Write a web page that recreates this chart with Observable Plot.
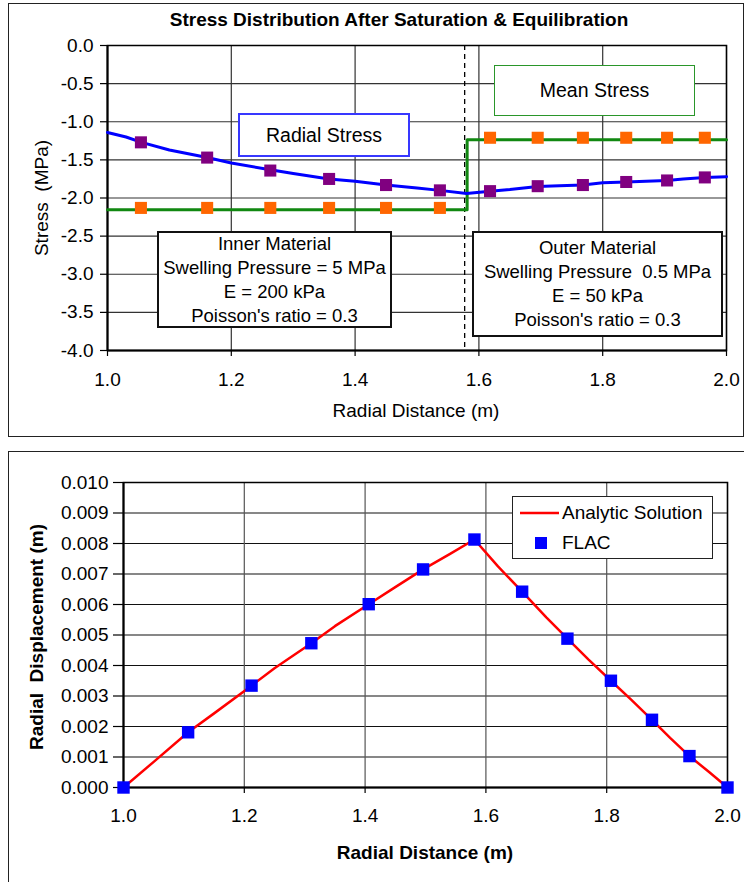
<!DOCTYPE html>
<html>
<head>
<meta charset="utf-8">
<script src="https://cdn.jsdelivr.net/npm/d3@7"></script>
<script src="https://cdn.jsdelivr.net/npm/@observablehq/plot@0.6"></script>
<style>
  html, body { margin: 0; padding: 0; background: #fff; }
  #wrap { position: relative; width: 744px; height: 882px; overflow: hidden; font-family: "Liberation Sans", Arial, sans-serif; color: #000; }
  .panel { position: absolute; border: 1.5px solid #222; background: #fff; box-sizing: border-box; }
  .box { position: absolute; background: #fff; box-sizing: border-box; display: flex; flex-direction: column; align-items: center; justify-content: center; font-size: 18.5px; white-space: pre; }
  .ttl { position: absolute; white-space: nowrap; transform: translate(-50%, -50%); font-size: 19px; }
  .rot { transform: translate(-50%, -50%) rotate(-90deg); }
  #wrap > svg { position: absolute; }
</style>
</head>
<body>
<div id="wrap">
  <div class="panel" style="left:8px; top:3px; width:736px; height:434px;"></div>
  <div class="panel" style="left:8px; top:451px; width:740px; height:440px;"></div>
</div>
<script>
// ---------- Top chart data ----------
const stressTitle = "Stress Distribution After Saturation & Equilibration";
const radialLineX = [1.00,1.03,1.055,1.10,1.161,1.20,1.263,1.30,1.358,1.40,1.450,1.50,1.537,1.58,1.618,1.65,1.695,1.73,1.768,1.80,1.838,1.87,1.904,1.93,1.965,2.00];
const radialLineY = [-1.14,-1.20,-1.27,-1.37,-1.47,-1.54,-1.63,-1.68,-1.75,-1.78,-1.83,-1.87,-1.90,-1.94,-1.91,-1.89,-1.85,-1.84,-1.83,-1.80,-1.79,-1.78,-1.77,-1.75,-1.73,-1.72];
const innerMarkX = [1.054,1.161,1.263,1.358,1.450,1.537];
const outerMarkX = [1.618,1.695,1.768,1.838,1.904,1.965];
const radialInnerFLAC = [-1.27,-1.47,-1.64,-1.75,-1.83,-1.90];
const radialOuterFLAC = [-1.91,-1.845,-1.83,-1.79,-1.77,-1.73];
const meanInnerFLAC = -2.13;
const meanOuterFLAC = -1.21;
const meanLineX = [1.0, 1.581, 1.581, 2.0];
const meanLineY = [-2.155, -2.155, -1.235, -1.235];
const interfaceX = 1.577;
const stressTicks = [0,-0.5,-1,-1.5,-2,-2.5,-3,-3.5,-4];
const distTicks = [1.0,1.2,1.4,1.6,1.8,2.0];

// ---------- Bottom chart data ----------
const analyticX = [1.00,1.05,1.107,1.15,1.212,1.25,1.311,1.35,1.406,1.45,1.496,1.54,1.581,1.62,1.660,1.70,1.735,1.77,1.807,1.84,1.875,1.905,1.937,1.97,2.00];
const analyticY = [0.0,0.00084,0.00181,0.00243,0.00334,0.00391,0.00473,0.00529,0.00601,0.00657,0.00715,0.00765,0.00813,0.00725,0.00642,0.00558,0.00488,0.00419,0.00350,0.00289,0.00222,0.00163,0.00103,0.00050,0.0];
const flacX = [1.0,1.107,1.212,1.311,1.406,1.496,1.581,1.660,1.735,1.807,1.875,1.937,2.0];
const flacY = [0.0,0.00181,0.00334,0.00473,0.00601,0.00715,0.00813,0.00642,0.00488,0.00350,0.00222,0.00103,0.0];
const dispTicks = [0,0.001,0.002,0.003,0.004,0.005,0.006,0.007,0.008,0.009,0.010];

const FONT = "Liberation Sans, Arial, sans-serif";
const wrap = document.getElementById("wrap");

// ---------- Top plot ----------
const radialLine = radialLineX.map((x,i)=>({x, y: radialLineY[i]}));
const meanLine = meanLineX.map((x,i)=>({x, y: meanLineY[i]}));
const purple = innerMarkX.concat(outerMarkX).map((x,i)=>({x, y: radialInnerFLAC.concat(radialOuterFLAC)[i]}));
const orange = innerMarkX.map(x=>({x, y: meanInnerFLAC})).concat(outerMarkX.map(x=>({x, y: meanOuterFLAC})));

const stressPlot = Plot.plot({
  width: 744, height: 440,
  marginLeft: 107, marginRight: 18, marginTop: 45, marginBottom: 90,
  style: {fontFamily: FONT, fontSize: "19px", color: "#000", background: "transparent", overflow: "visible"},
  x: {domain: [1, 2]},
  y: {domain: [-4, 0]},
  marks: [
    Plot.gridY(stressTicks, {stroke: "#333", strokeOpacity: 1, strokeWidth: 1.2}),
    Plot.gridX(distTicks, {stroke: "#333", strokeOpacity: 1, strokeWidth: 1.2}),
    Plot.frame({stroke: "#000", strokeWidth: 1.5}),
    Plot.ruleX([1], {stroke: "#000", strokeWidth: 2}),
    Plot.ruleY([-4], {stroke: "#000", strokeWidth: 2}),
    Plot.axisY(stressTicks, {tickSize: 7, tickPadding: 7, tickFormat: d => d.toFixed(1), label: null, fontSize: 19, strokeWidth: 1.2}),
    Plot.axisX(distTicks, {tickSize: 6, tickPadding: 16, tickFormat: d => d.toFixed(1), label: null, fontSize: 19, strokeWidth: 1.2}),
    Plot.ruleX([interfaceX], {stroke: "#000", strokeWidth: 1.3, strokeDasharray: "5,4"}),
    Plot.line(meanLine, {x: "x", y: "y", stroke: "#118811", strokeWidth: 3}),
    Plot.line(radialLine, {x: "x", y: "y", stroke: "#0000ff", strokeWidth: 3, curve: "linear"}),
    Plot.dot(orange, {x: "x", y: "y", symbol: "square", r: 6.8, fill: "#ff6600", stroke: "none"}),
    Plot.dot(purple, {x: "x", y: "y", symbol: "square", r: 6.8, fill: "#800080", stroke: "none"})
  ]
});
stressPlot.style.left = "0px"; stressPlot.style.top = "0px";
wrap.appendChild(stressPlot);

// ---------- Bottom plot ----------
const analytic = analyticX.map((x,i)=>({x, y: analyticY[i]}));
const flac = flacX.map((x,i)=>({x, y: flacY[i]}));
const dispPlot = Plot.plot({
  width: 744, height: 442,
  marginLeft: 123, marginRight: 17, marginTop: 42, marginBottom: 95,
  style: {fontFamily: FONT, fontSize: "19px", color: "#000", background: "transparent", overflow: "visible"},
  x: {domain: [1, 2]},
  y: {domain: [0, 0.010]},
  marks: [
    Plot.gridY(dispTicks, {stroke: "#111", strokeOpacity: 1, strokeWidth: 1.2}),
    Plot.gridX(distTicks, {stroke: "#555", strokeOpacity: 1, strokeWidth: 1.2}),
    Plot.frame({stroke: "#000", strokeWidth: 1.5}),
    Plot.ruleX([1], {stroke: "#000", strokeWidth: 2}),
    Plot.ruleY([0], {stroke: "#000", strokeWidth: 2}),
    Plot.axisY(dispTicks, {tickSize: 10, tickPadding: 5, tickFormat: d => d.toFixed(3), label: null, fontSize: 19, strokeWidth: 1.2}),
    Plot.axisX(distTicks, {tickSize: 6, tickPadding: 15, tickFormat: d => d.toFixed(1), label: null, fontSize: 19, strokeWidth: 1.2}),
    Plot.line(analytic, {x: "x", y: "y", stroke: "#ff0000", strokeWidth: 2.5}),
    Plot.dot(flac, {x: "x", y: "y", symbol: "square", r: 7, fill: "#0000ff", stroke: "none"})
  ]
});
dispPlot.style.left = "0px"; dispPlot.style.top = "440px";
wrap.appendChild(dispPlot);

// ---------- Text overlays ----------
function add(html, style, cls) {
  const d = document.createElement("div");
  d.className = cls;
  d.setAttribute("style", style);
  d.innerHTML = html;
  wrap.appendChild(d);
  return d;
}
add(stressTitle.replace("&", "&amp;"), "left:399px; top:20px; font-weight:bold; font-size:19px;", "ttl");
add("Radial Distance (m)", "left:416px; top:411px;", "ttl");
add("Stress&nbsp;&nbsp;(MPa)", "left:42px; top:198px;", "ttl rot");
add("Radial Distance (m)", "left:425px; top:853px; font-weight:bold;", "ttl");
add("Radial&nbsp;&nbsp;Displacement (m)", "left:37px; top:637px; font-weight:bold;", "ttl rot");

add("Radial Stress", "left:238px; top:113px; width:172px; height:44px; border:2px solid #3838ff; font-size:19.5px;", "box");
add("Mean Stress", "left:494px; top:65px; width:201px; height:51px; border:1.5px solid #2a962a; font-size:19.5px;", "box");
add("<div>Inner Material</div><div>Swelling Pressure = 5 MPa</div><div>E = 200 kPa</div><div>Poisson's ratio = 0.3</div>",
    "left:157px; top:231px; width:235px; height:97px; border:2px solid #111; line-height:24px;", "box");
add("<div>Outer Material</div><div>Swelling Pressure  0.5 MPa</div><div>E = 50 kPa</div><div>Poisson's ratio = 0.3</div>",
    "left:472px; top:231px; width:251px; height:106px; border:2px solid #111; line-height:24px;", "box");

// legend
add(`<div style="display:flex;align-items:center;height:30px;"><svg width="44" height="10"><line x1="3" y1="5" x2="42" y2="5" stroke="#ff0000" stroke-width="2.5"/></svg><span style="margin-left:1px">Analytic Solution</span></div>
<div style="display:flex;align-items:center;height:30px;"><svg width="44" height="14"><rect x="18" y="1" width="12" height="12" fill="#0000ff"/></svg><span style="margin-left:1px">FLAC</span></div>`,
  "left:512px; top:496px; width:201px; height:63px; border:1.5px solid #222; align-items:flex-start; padding-left:4px; font-size:19px;", "box");
</script>
</body>
</html>
